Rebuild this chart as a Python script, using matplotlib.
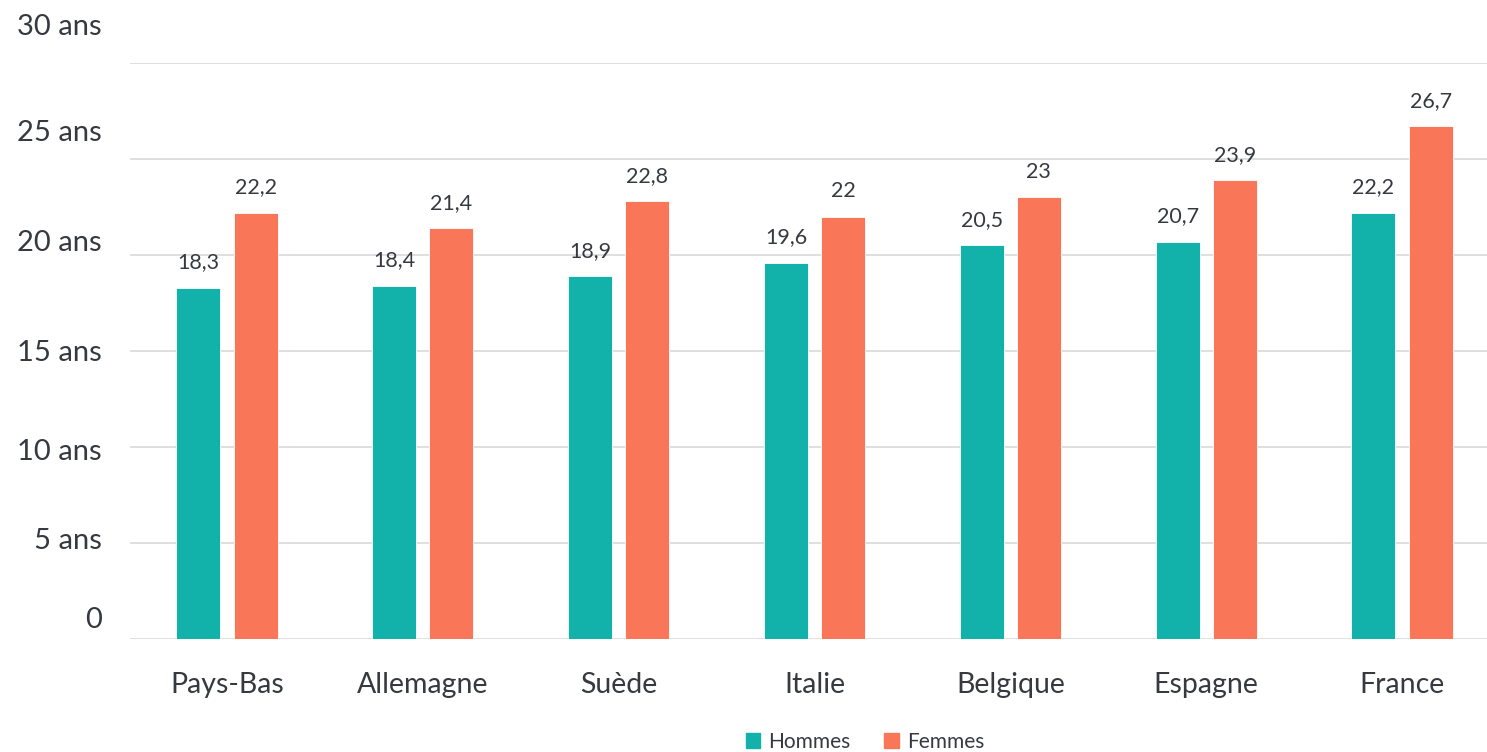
import numpy as np
import matplotlib
matplotlib.use('Agg')
import matplotlib.pyplot as plt
import matplotlib.transforms as mtransforms
from matplotlib.patches import Patch

plt.rcParams['font.family'] = ['Lato', 'DejaVu Sans']

countries = ['Pays-Bas', 'Allemagne', 'Suède', 'Italie', 'Belgique', 'Espagne', 'France']
hommes = [18.3, 18.4, 18.9, 19.6, 20.5, 20.7, 22.2]
femmes = [22.2, 21.4, 22.8, 22.0, 23.0, 23.9, 26.7]
grid_values = [0, 5, 10, 15, 20, 25, 30]
grid_labels = ['0', '5 ans', '10 ans', '15 ans', '20 ans', '25 ans', '30 ans']

TEAL = '#12B2AA'
CORAL = '#FA7658'
TEXT = '#363a40'

# the axis labels drift upward from their gridlines as the values grow
label_pos = [1.0, 5.1, 9.75, 14.9, 20.65, 26.35, 31.85]


def fmt(v):
    s = f'{v:.1f}'.replace('.', ',')
    return s[:-2] if s.endswith(',0') else s


fig = plt.figure(figsize=(14.87, 7.52), dpi=100)
ax = fig.add_axes([130 / 1487, 113 / 752, 1357 / 1487, 576 / 752])

x = np.arange(len(countries))
w = 0.225
off = 0.146
b1 = ax.bar(x - off, hommes, w, color=TEAL, edgecolor='white', linewidth=0.6, zorder=3)
b2 = ax.bar(x + off, femmes, w, color=CORAL, edgecolor='white', linewidth=0.6, zorder=3)

for bars, vals in ((b1, hommes), (b2, femmes)):
    for r, v in zip(bars, vals):
        ax.annotate(fmt(v), (r.get_x() + r.get_width() / 2, v), xytext=(0, 11),
                    textcoords='offset points', ha='center', va='bottom',
                    fontsize=15.5, color=TEXT)

for g in grid_values:
    ax.axhline(g, color='#d9d9d9', linewidth=1.2, zorder=1)

ax.set_xlim(-0.495, 6.434)
ax.set_ylim(0, 30)
ax.set_yticks([])
trans = mtransforms.blended_transform_factory(ax.transAxes, ax.transData)
for lab, pos in zip(grid_labels, label_pos):
    ax.text(-0.021, pos, lab, transform=trans, ha='right', va='center',
            fontsize=21, color=TEXT, clip_on=False)

ax.set_xticks(x)
ax.set_xticklabels(countries, fontsize=20.5, color=TEXT)
ax.tick_params(axis='x', length=0, pad=24)
for s in ax.spines.values():
    s.set_visible(False)

handles = [Patch(color=TEAL, label='Hommes'), Patch(color=CORAL, label='Femmes')]
fig.legend(handles=handles, loc='lower center', bbox_to_anchor=(865 / 1487, -0.025),
           ncol=2, frameon=False, fontsize=15, handlelength=0.7, handleheight=0.7,
           handletextpad=0.4, columnspacing=1.6, labelcolor=TEXT)

fig.savefig('out.png', dpi=100)
